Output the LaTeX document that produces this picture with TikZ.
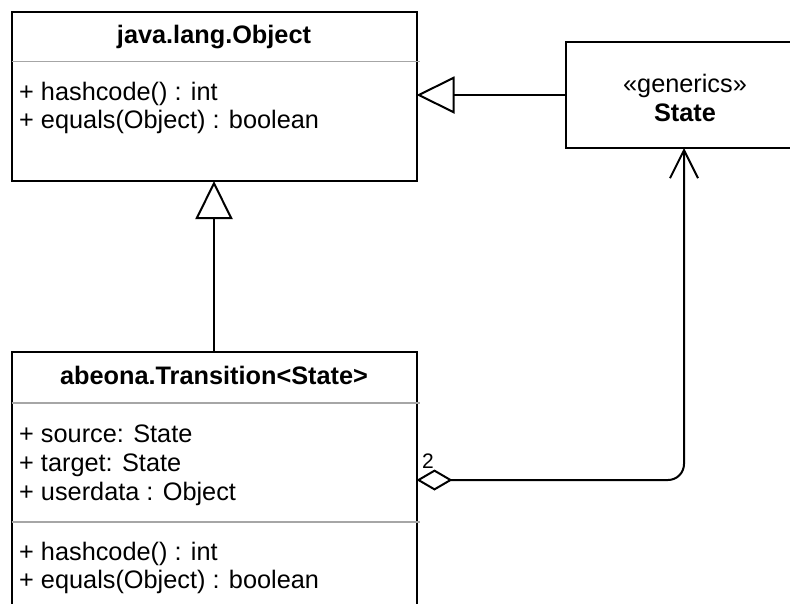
\documentclass[tikz,border=0pt]{standalone}
\usepackage{fontspec}
\setmainfont{Liberation Sans}
\usetikzlibrary{arrows.meta}
\definecolor{sepgray}{HTML}{A6A6A6}
\begin{document}
\begin{tikzpicture}[x=1pt,y=-1pt,
  box/.style={draw=black, line width=2pt, inner sep=0pt, outer sep=0pt, fill=white},
  sepline/.style={draw=sepgray, line width=1.4pt},
  txt/.style={inner sep=0pt, anchor=base west, font=\fontsize{25.3}{30}\selectfont},
  ttl/.style={inner sep=0pt, anchor=base, font=\fontsize{25.3}{30}\selectfont\bfseries},
  gen/.style={line width=2pt, -{Triangle[open, length=38pt, width=37pt, line width=2pt]}},
  agg/.style={line width=2pt, rounded corners=16pt,
    {Diamond[open, length=36pt, width=21pt, line width=2pt]}-{Straight Barb[length=28pt, width=28pt, line width=2pt]}}
]
\useasboundingbox (0,0) rectangle (790,603);
\clip (0,0) rectangle (790,603);
\fill[white] (0,0) rectangle (790,603);

% java.lang.Object
\node[box, minimum width=405pt, minimum height=169.5pt] (obj) at (214,96.25) {};
\draw[sepline] (obj.west |- 0,61.7) -- ([xshift=3pt]obj.east |- 0,61.7);
\node[ttl] (objt) at (214,43.5) {java.lang.Object};
\node[txt] (objm1) at (19,100) {+ hashcode() : int};
\node[txt] (objm2) at (19,128.5) {+ equals(Object) : boolean};

% State
\node[box, minimum width=236pt, minimum height=106pt] (state) at (684,95) {};
\node[inner sep=0pt, anchor=base, font=\fontsize{25.3}{30}\selectfont] (stst) at (685,92) {«generics»};
\node[ttl] (stn) at (685,121) {State};

% abeona.Transition
\node[box, minimum width=405pt, minimum height=256pt] (trans) at (214,480) {};
\draw[sepline] (trans.west |- 0,403) -- ([xshift=3pt]trans.east |- 0,403);
\draw[sepline] (trans.west |- 0,522) -- ([xshift=3pt]trans.east |- 0,522);
\node[ttl] (trt) at (214,384) {abeona.Transition<State>};
\node[txt] (tra1) at (19,442) {+ source: State};
\node[txt] (tra2) at (19,471) {+ target: State};
\node[txt] (tra3) at (19,500) {+ userdata : Object};
\node[txt] (trm1) at (19,560) {+ hashcode() : int};
\node[txt] (trm2) at (19,588.5) {+ equals(Object) : boolean};

% connectors
\draw[gen] (state.west) -- (obj.east |- state.west);
\draw[gen] (trans.north) -- (obj.south);
\draw[agg] (trans.east) -| (state.south);
\node[fill=white, inner sep=1pt, font=\fontsize{21}{24}\selectfont] (mult) at (428,461) {2};
\end{tikzpicture}
\end{document}
